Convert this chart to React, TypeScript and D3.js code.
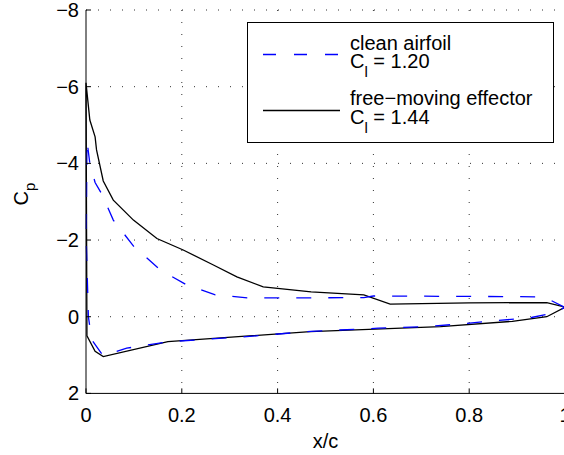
import * as d3 from 'd3'

// x/c and Cp, path goes TE upper -> LE -> TE lower
const cleanX = [1.0, 0.97, 0.94, 0.8, 0.6, 0.58, 0.45, 0.34, 0.27, 0.21, 0.155, 0.1, 0.057, 0.033, 0.019, 0.008, 0.004, 0.002,
  0.0005, 0.005, 0.012, 0.036, 0.085, 0.175, 0.335, 0.47, 0.61, 0.71, 0.78, 0.85, 0.906, 0.93, 0.972, 1.0]
const cleanCp = [-0.24, -0.43, -0.52, -0.53, -0.54, -0.5, -0.49, -0.49, -0.57, -0.83, -1.22, -1.83, -2.52, -3.2, -3.5, -4.0, -4.4, -4.6,
  -2.0, 0.0, 0.6, 1.02, 0.82, 0.65, 0.52, 0.38, 0.3, 0.26, 0.19, 0.11, 0.05, 0.02, -0.09, -0.24]

const effX = [1.0, 0.962, 0.8, 0.635, 0.58, 0.47, 0.43, 0.37, 0.315, 0.266, 0.203, 0.148, 0.099, 0.057, 0.036, 0.022, 0.019, 0.008, 0.0,
  0.002, 0.019, 0.036, 0.171, 0.468, 0.74, 0.89, 0.962, 1.0]
const effCp = [-0.25, -0.37, -0.36, -0.33, -0.57, -0.65, -0.7, -0.78, -1.04, -1.35, -1.74, -2.04, -2.52, -3.04, -3.54, -4.35, -4.69, -5.13, -6.1,
  0.5, 0.9, 1.04, 0.65, 0.39, 0.26, 0.12, 0.0, -0.25]

const xTicks = [0, 0.2, 0.4, 0.6, 0.8, 1]
const yTicks = [-8, -6, -4, -2, 0, 2]

const W = 564
const H = 455
const left = 86
const right = 565
const top = 10
const bottom = 393.4
const font = 'Liberation Sans, Arial, Helvetica, sans-serif'
const fs = 20

const fmt = (v: number) => (v < 0 ? '\u2212' + Math.abs(v) : String(v))

export default function App() {
  const x = d3.scaleLinear().domain([0, 1]).range([left, right])
  const y = d3.scaleLinear().domain([-8, 2]).range([top, bottom])

  const line = d3.line<[number, number]>()
    .x(d => x(d[0]))
    .y(d => y(d[1]))

  const clean = cleanX.map((v, i) => [v, cleanCp[i]] as [number, number])
  const eff = effX.map((v, i) => [v, effCp[i]] as [number, number])

  const grid = { stroke: '#333', strokeWidth: 1, strokeDasharray: '1,11' }

  return (
    <svg width={W} height={H} style={{ position: 'absolute', left: 0, top: 0, background: '#fff' }}
      fontFamily={font}>
      {/* grid */}
      {xTicks.filter(t => t > 0).map(t => (
        <line key={'gx' + t} x1={x(t)} x2={x(t)} y1={top} y2={bottom} {...grid} />
      ))}
      {yTicks.filter(t => t < 2).map(t => (
        <line key={'gy' + t} x1={left} x2={right} y1={y(t)} y2={y(t)} {...grid} />
      ))}

      {/* curves */}
      <path d={line(eff) || ''} fill="none" stroke="#000" strokeWidth={1.3} />
      <path d={line(clean) || ''} fill="none" stroke="#0000ff" strokeWidth={1.3} strokeDasharray="15,17" />

      {/* axes */}
      <line x1={left} x2={left} y1={top} y2={bottom} stroke="#000" />
      <line x1={left} x2={right} y1={bottom} y2={bottom} stroke="#000" />
      {xTicks.map(t => (
        <g key={'tx' + t}>
          <line x1={x(t)} x2={x(t)} y1={bottom} y2={bottom - 5} stroke="#000" />
          <text x={x(t)} y={421.5} fontSize={fs} textAnchor="middle">{fmt(t)}</text>
        </g>
      ))}
      {yTicks.map(t => (
        <g key={'ty' + t}>
          <line x1={left} x2={left + 5} y1={y(t)} y2={y(t)} stroke="#000" />
          <text x={79} y={y(t) + 7} fontSize={fs} textAnchor="end">{fmt(t)}</text>
        </g>
      ))}

      <text x={(left + right) / 2} y={448} fontSize={fs} textAnchor="middle">x/c</text>
      <text transform={`translate(28,194) rotate(-90)`} fontSize={fs} textAnchor="middle">
        C<tspan fontSize={15} dy={7}>p</tspan>
      </text>

      {/* legend */}
      <rect x={247.5} y={22.5} width={306} height={120} fill="#fff" stroke="#000" />
      <line x1={263} x2={340} y1={54.5} y2={54.5} stroke="#0000ff" strokeWidth={1.3} strokeDasharray="13,18" />
      <text x={350} y={50} fontSize={fs}>clean airfoil</text>
      <text x={350} y={68} fontSize={fs}>
        C<tspan fontSize={15} dy={9}>l</tspan><tspan dy={-9}> = 1.20</tspan>
      </text>
      <line x1={263} x2={340} y1={110.5} y2={110.5} stroke="#000" strokeWidth={1.3} />
      <text x={350} y={105} fontSize={fs}>free{'\u2212'}moving effector</text>
      <text x={350} y={124} fontSize={fs}>
        C<tspan fontSize={15} dy={9}>l</tspan><tspan dy={-9}> = 1.44</tspan>
      </text>
    </svg>
  )
}
